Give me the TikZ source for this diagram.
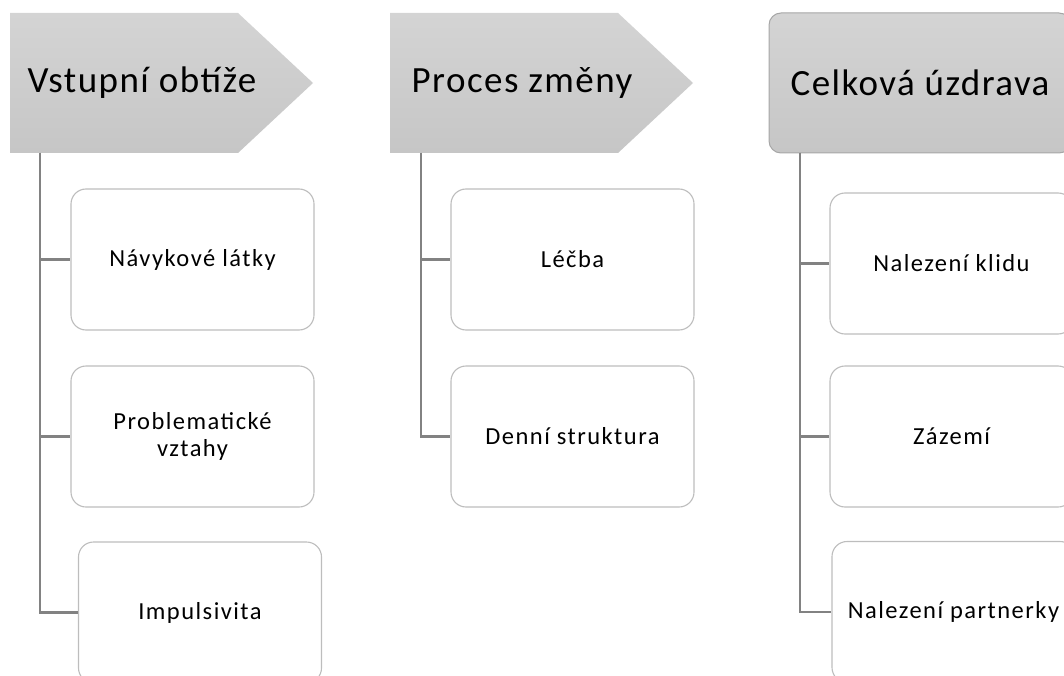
\documentclass[tikz,border=0pt]{standalone}
\usepackage{fontspec}
\setmainfont{Carlito}
\newfontfamily\hdrfont{Carlito}[LetterSpace=4]
\newfontfamily\itemfont{Carlito}[LetterSpace=6]
\definecolor{hdrtop}{HTML}{D4D4D4}
\definecolor{hdrbot}{HTML}{C6C6C6}
\definecolor{hdrline}{HTML}{A6A6A6}
\definecolor{boxline}{HTML}{BDBDBD}
\definecolor{connline}{HTML}{828282}
\tikzset{
  hdrfill/.style={top color=hdrtop, bottom color=hdrbot},
  hdrtext/.style={inner sep=0pt, font=\hdrfont\fontsize{37}{40}\selectfont, text=black},
  itembox/.style={draw=boxline, line width=1.1pt, fill=white, rounded corners=15pt,
    minimum width=243pt, minimum height=141pt, inner sep=0pt, align=center,
    font=\itemfont\fontsize{24.5}{27}\selectfont, text=black},
  conn/.style={draw=connline, line width=2.8pt}
}
\begin{document}
\begin{tikzpicture}[x=1pt, y=-1pt]
\useasboundingbox (0,0) rectangle (1064,676);
\clip (0,0) rectangle (1064,676);

% column headers
\shade[hdrfill] (10,13) -- (238,13) -- (313,83) -- (238,153) -- (10,153) -- cycle;
\node[hdrtext] (h1) at (142,83) {Vstupní obtíže};
\shade[hdrfill] (390,13) -- (618,13) -- (693,83) -- (618,153) -- (390,153) -- cycle;
\node[hdrtext] (h2) at (522,83) {Proces změny};
\shade[hdrfill, draw=hdrline, line width=1pt, rounded corners=12pt] (769,13) rectangle (1071,153);
\node[hdrtext] (h3) at (920,83) {Celková úzdrava};

% roots of the tree lines under each header
\coordinate (r1) at (40,153);
\coordinate (r2) at (421,153);
\coordinate (r3) at (800,153);

% items
\node[itembox] (b11) at (192.5,259.5) {Návykové látky};
\node[itembox] (b12) at (192.5,436.5) {Problematické\\vztahy};
\node[itembox] (b13) at (200,612.5) {Impulsivita};
\node[itembox] (b21) at (572.5,259.5) {Léčba};
\node[itembox] (b22) at (572.5,436.5) {Denní struktura};
\node[itembox] (b31) at (951.5,263.5) {Nalezení klidu};
\node[itembox] (b32) at (951.5,436.5) {Zázemí};
\node[itembox] (b33) at (953.5,612) {Nalezení partnerky};

% connectors
\draw[conn] (r1) |- (b11.west);
\draw[conn] (r1) |- (b12.west);
\draw[conn] (r1) |- (b13.west);
\draw[conn] (r2) |- (b21.west);
\draw[conn] (r2) |- (b22.west);
\draw[conn] (r3) |- (b31.west);
\draw[conn] (r3) |- (b32.west);
\draw[conn] (r3) |- (b33.west);
\end{tikzpicture}
\end{document}
